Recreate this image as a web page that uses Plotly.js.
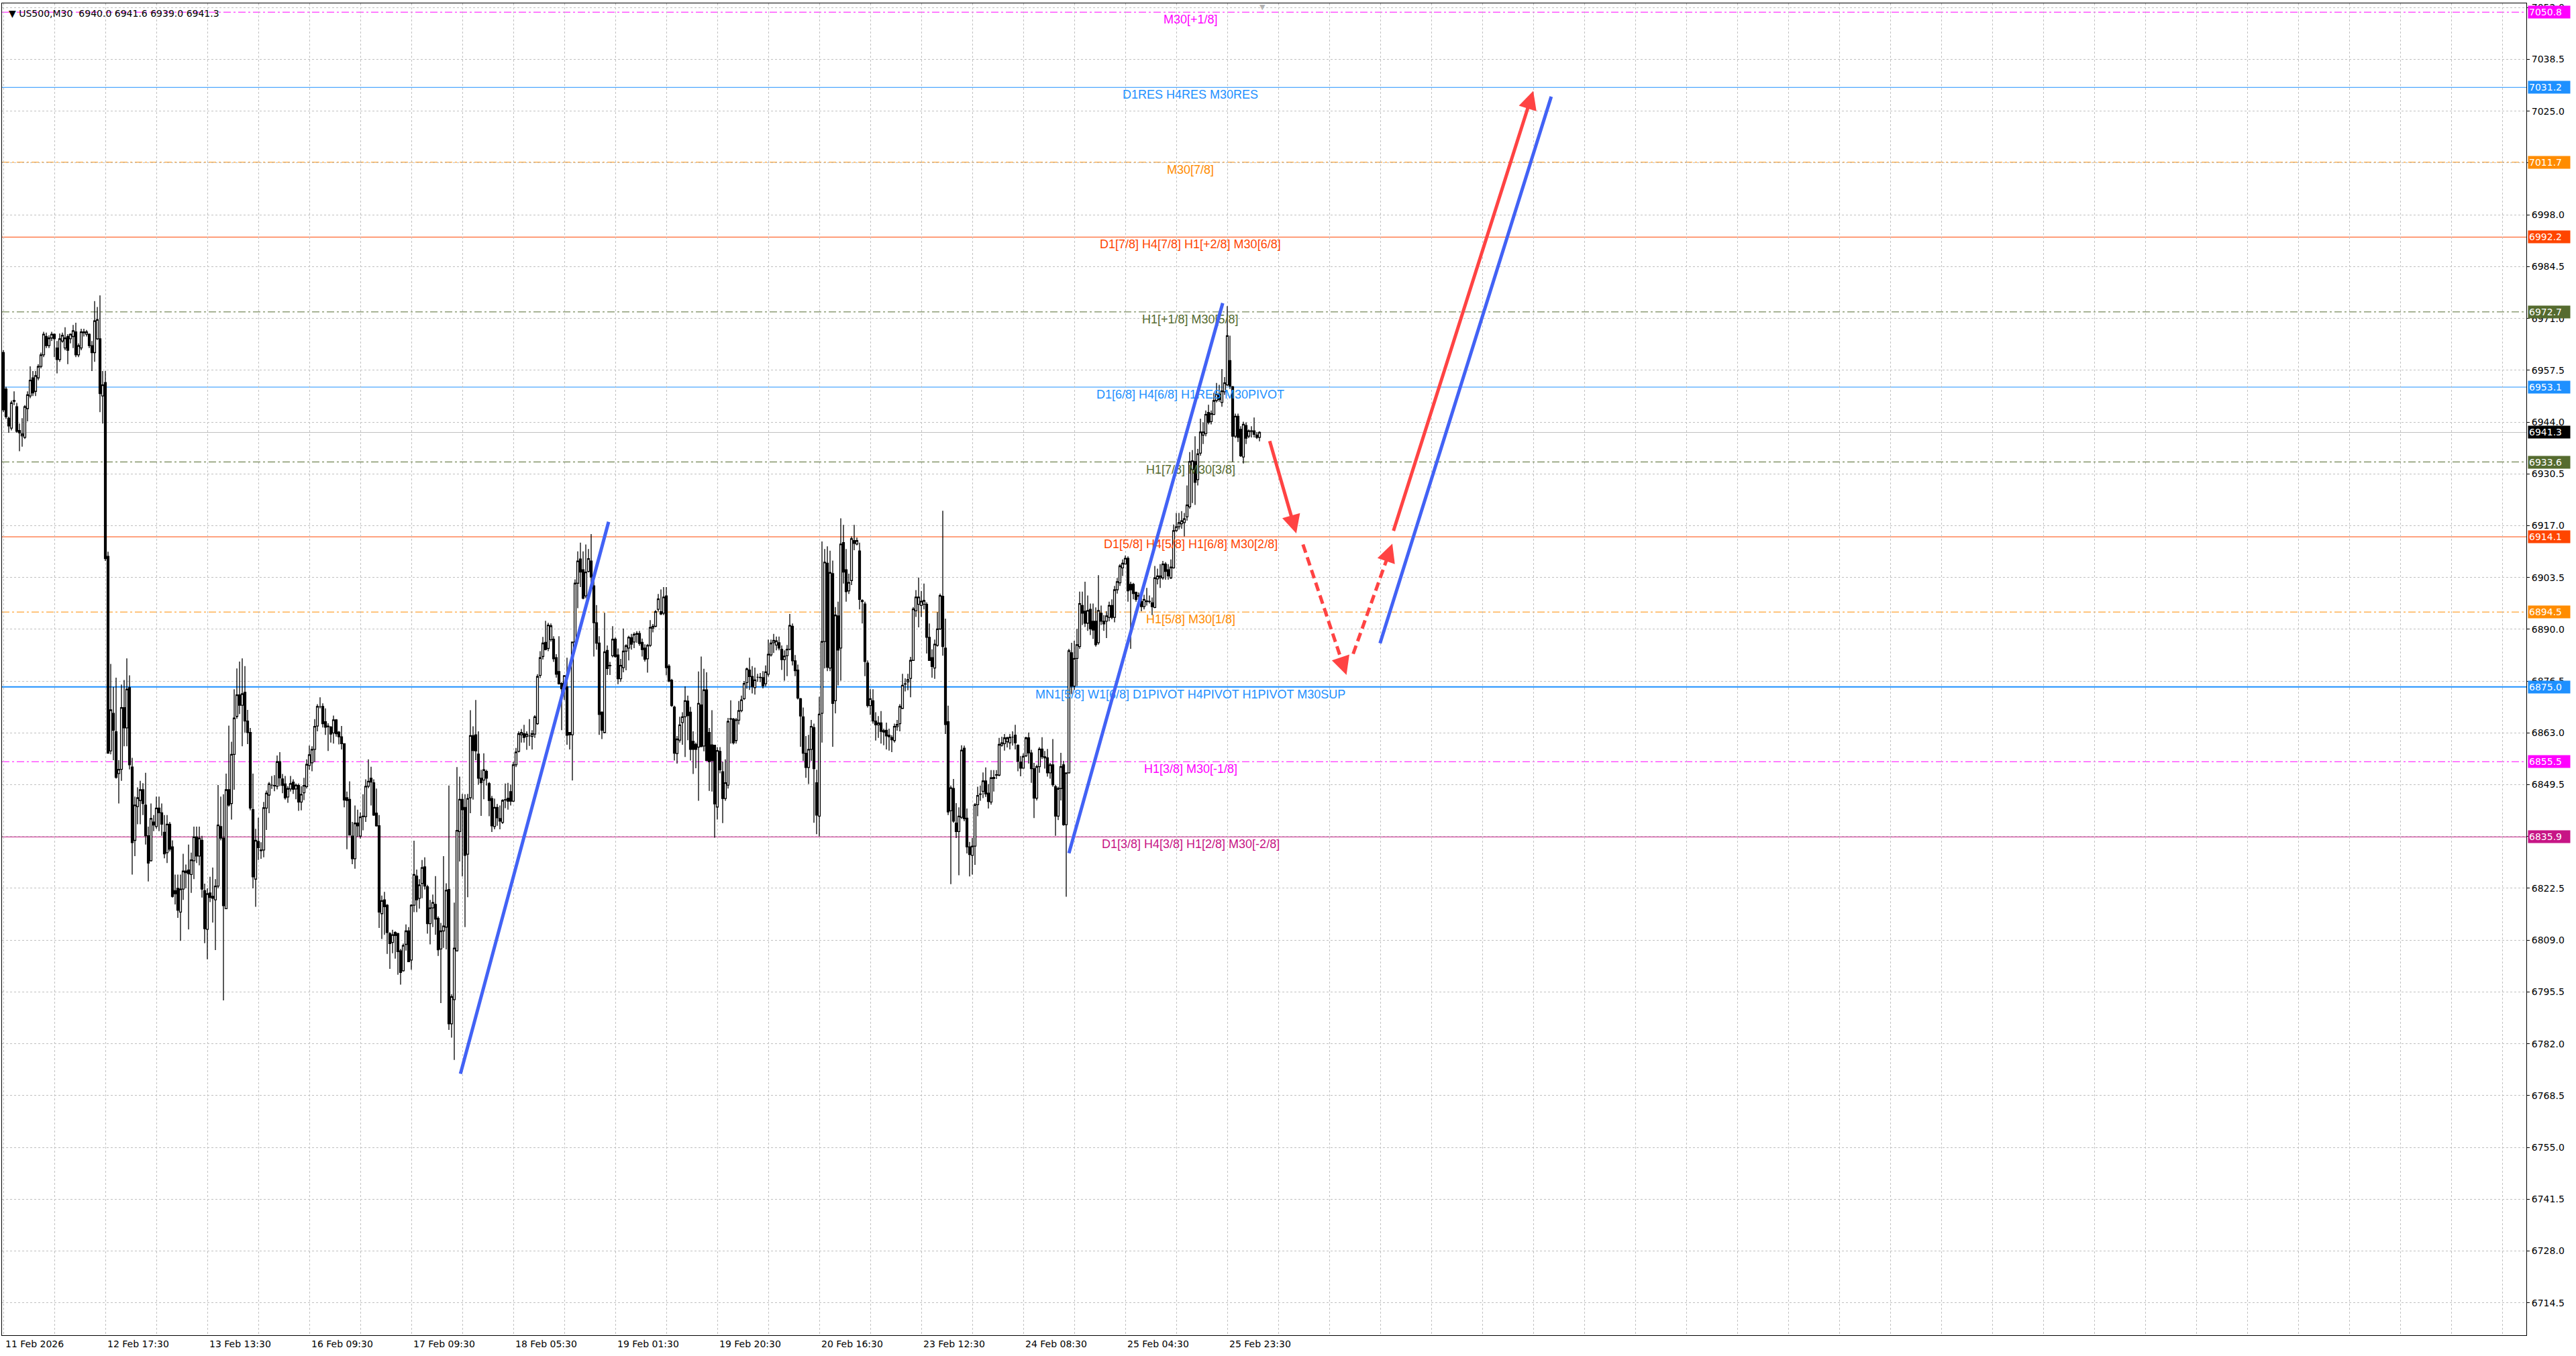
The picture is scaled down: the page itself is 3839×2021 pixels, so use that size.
<!DOCTYPE html>
<html>
<head>
<meta charset="utf-8">
<script src="https://cdn.plot.ly/plotly-3.0.1.min.js"></script>
<style>
  html, body { margin: 0; padding: 0; background: #fff; }
  #plot { width: 3839px; height: 2021px; }
</style>
</head>
<body>
<div id="plot"></div>
<script>
// US500 M30 bars (one value per bar)
const barOpen = [
  6962.1, 6952.6, 6945.0, 6942.4, 6949.4, 6948.0, 6941.8, 6940.4, 6940.0, 6947.5,
  6950.8, 6955.5, 6952.0, 6955.5, 6958.5, 6961.5, 6966.3, 6963.9, 6965.9, 6966.9,
  6963.3, 6960.3, 6965.1, 6963.3, 6966.3, 6965.7, 6966.3, 6967.5, 6961.5, 6963.3,
  6967.3, 6966.9, 6966.9, 6963.9, 6962.1, 6965.7, 6965.7, 6950.8, 6954.3, 6909.0,
  6858.3, 6868.1, 6863.3, 6852.4, 6853.5, 6869.6, 6864.3, 6874.8, 6854.1, 6835.0,
  6843.8, 6845.4, 6848.2, 6844.2, 6836.2, 6829.7, 6839.8, 6838.6, 6843.4, 6842.2,
  6837.1, 6831.8, 6839.2, 6833.3, 6821.9, 6822.5, 6816.3, 6822.3, 6827.0, 6827.3,
  6826.1, 6829.7, 6835.9, 6830.9, 6835.0, 6821.9, 6811.8, 6821.3, 6820.4, 6819.5,
  6823.1, 6838.6, 6835.6, 6817.2, 6848.2, 6844.6, 6857.4, 6867.3, 6872.9, 6870.2,
  6873.6, 6866.1, 6863.1, 6843.0, 6824.9, 6834.7, 6832.5, 6832.5, 6843.4, 6846.8,
  6849.4, 6849.2, 6849.1, 6855.5, 6851.0, 6849.7, 6846.3, 6848.4, 6850.2, 6848.4,
  6849.3, 6845.0, 6847.4, 6849.0, 6854.5, 6855.2, 6858.7, 6864.8, 6869.8, 6869.9,
  6865.9, 6864.8, 6864.5, 6863.0, 6866.4, 6863.2, 6862.0, 6860.2, 6846.1, 6845.7,
  6836.1, 6830.2, 6839.5, 6836.1, 6841.2, 6841.2, 6849.1, 6851.2, 6850.0, 6842.1,
  6838.8, 6815.9, 6819.5, 6818.1, 6810.7, 6808.4, 6811.0, 6810.7, 6806.2, 6801.0,
  6807.9, 6811.4, 6803.8, 6818.1, 6825.7, 6819.9, 6823.8, 6828.1, 6822.9, 6813.3,
  6817.4, 6818.3, 6814.7, 6806.7, 6811.4, 6812.4, 6822.2, 6787.2, 6793.5, 6806.2,
  6837.3, 6845.7, 6843.6, 6831.4, 6846.1, 6862.3, 6862.5, 6857.5, 6851.2, 6850.7,
  6853.0, 6849.8, 6845.9, 6838.6, 6843.6, 6840.7, 6839.7, 6845.6, 6846.0, 6847.7,
  6845.2, 6854.7, 6858.2, 6862.5, 6862.8, 6862.1, 6862.2, 6862.1, 6862.7, 6865.4,
  6878.0, 6882.9, 6886.6, 6885.0, 6887.3, 6887.4, 6882.6, 6879.0, 6875.9, 6874.5,
  6875.0, 6863.1, 6862.5, 6886.7, 6902.0, 6908.3, 6905.5, 6898.7, 6905.1, 6907.8,
  6901.3, 6891.7, 6886.4, 6868.4, 6863.1, 6884.5, 6880.5, 6883.1, 6887.4, 6883.3,
  6877.1, 6880.0, 6884.3, 6885.1, 6887.8, 6886.7, 6888.7, 6888.9, 6886.6, 6885.1,
  6882.3, 6885.8, 6890.3, 6890.8, 6895.2, 6894.6, 6894.2, 6898.7, 6880.4, 6876.7,
  6869.7, 6857.6, 6861.1, 6865.7, 6867.2, 6871.3, 6868.4, 6860.8, 6860.0, 6859.3,
  6870.3, 6859.6, 6874.2, 6863.1, 6859.9, 6859.8, 6843.7, 6858.2, 6852.9, 6845.9,
  6849.4, 6866.7, 6866.6, 6861.0, 6866.3, 6868.8, 6871.9, 6876.1, 6879.4, 6877.7,
  6874.8, 6877.5, 6877.5, 6877.4, 6875.8, 6878.3, 6883.3, 6886.5, 6885.9, 6886.5,
  6884.8, 6882.1, 6883.1, 6884.8, 6890.8, 6881.8, 6879.4, 6871.9, 6867.2, 6857.7,
  6854.0, 6858.7, 6864.4, 6850.0, 6841.3, 6868.1, 6886.8, 6907.2, 6879.9, 6904.5,
  6871.4, 6893.5, 6885.1, 6912.6, 6905.5, 6900.0, 6902.7, 6913.1, 6912.2, 6910.4,
  6897.5, 6896.6, 6881.2, 6870.1, 6871.4, 6866.1, 6865.1, 6865.6, 6863.6, 6863.7,
  6862.4, 6861.8, 6861.0, 6864.6, 6865.4, 6869.4, 6875.7, 6876.3, 6877.2, 6881.9,
  6894.8, 6896.5, 6896.2, 6896.5, 6896.5, 6887.9, 6882.6, 6879.9, 6885.8, 6890.1,
  6898.6, 6885.1, 6865.9, 6842.7, 6848.5, 6839.5, 6837.3, 6841.0, 6859.0, 6840.8,
  6833.3, 6831.1, 6833.5, 6844.3, 6847.0, 6847.8, 6850.5, 6847.3, 6845.0, 6851.1,
  6852.0, 6852.0, 6859.8, 6860.2, 6860.7, 6860.4, 6861.9, 6862.4, 6859.8, 6855.4,
  6853.8, 6857.0, 6861.7, 6857.8, 6853.7, 6846.0, 6854.2, 6858.8, 6856.8, 6856.5,
  6852.6, 6854.7, 6849.0, 6841.3, 6848.5, 6854.7, 6839.1, 6852.6, 6883.9, 6875.2,
  6882.4, 6885.5, 6896.2, 6894.7, 6891.6, 6895.2, 6892.1, 6892.1, 6886.5, 6894.2,
  6892.1, 6892.1, 6893.1, 6896.2, 6893.1, 6900.3, 6902.1, 6906.0, 6907.0, 6908.5,
  6901.7, 6901.7, 6899.6, 6898.8, 6897.2, 6895.9, 6897.2, 6897.2, 6896.9, 6895.7,
  6903.1, 6903.4, 6903.4, 6907.0, 6905.5, 6903.4, 6906.0, 6915.7, 6916.7, 6917.5,
  6917.8, 6919.3, 6921.9, 6931.6, 6933.7, 6929.0, 6935.9, 6940.6, 6941.0, 6946.5,
  6944.1, 6946.0, 6949.6, 6951.3, 6949.1, 6951.9, 6953.7, 6960.0, 6953.2, 6940.3,
  6945.5, 6942.1, 6934.9, 6943.1, 6940.3, 6941.7, 6941.7, 6940.6, 6940.0
];
const barHigh = [
  6962.7, 6953.2, 6945.4, 6949.6, 6952.0, 6949.0, 6943.6, 6945.0, 6948.4, 6952.0,
  6958.5, 6957.3, 6957.3, 6959.1, 6962.1, 6967.5, 6967.3, 6966.6, 6967.5, 6967.1,
  6965.1, 6967.1, 6967.3, 6968.7, 6966.9, 6967.1, 6969.3, 6969.9, 6964.5, 6968.3,
  6968.3, 6968.0, 6967.1, 6965.1, 6975.5, 6974.0, 6977.0, 6957.3, 6957.3, 6910.2,
  6881.0, 6875.0, 6877.4, 6855.9, 6875.6, 6876.8, 6882.4, 6878.0, 6856.5, 6846.4,
  6848.8, 6850.5, 6849.9, 6852.6, 6838.6, 6844.6, 6841.6, 6846.4, 6846.4, 6844.6,
  6841.6, 6841.6, 6839.8, 6835.0, 6826.1, 6826.1, 6826.1, 6831.5, 6828.7, 6833.9,
  6831.8, 6838.6, 6838.6, 6838.6, 6836.2, 6823.7, 6822.5, 6825.5, 6827.9, 6824.9,
  6849.4, 6846.4, 6847.0, 6852.4, 6864.9, 6860.7, 6874.4, 6879.8, 6881.6, 6882.4,
  6880.4, 6869.0, 6864.3, 6852.4, 6838.0, 6840.9, 6834.5, 6845.0, 6848.0, 6850.2,
  6851.8, 6852.0, 6857.1, 6858.0, 6852.3, 6851.8, 6849.1, 6851.8, 6850.9, 6849.8,
  6849.8, 6849.1, 6851.3, 6856.1, 6859.7, 6859.5, 6866.6, 6870.5, 6872.3, 6870.7,
  6869.4, 6865.5, 6864.8, 6867.5, 6866.6, 6863.5, 6864.8, 6860.2, 6847.7, 6850.4,
  6839.8, 6844.1, 6843.0, 6842.3, 6847.0, 6850.9, 6856.1, 6854.2, 6850.9, 6848.5,
  6841.6, 6820.6, 6821.6, 6818.4, 6811.1, 6811.7, 6811.3, 6810.9, 6806.7, 6808.1,
  6813.1, 6812.4, 6818.4, 6834.9, 6827.4, 6824.9, 6829.9, 6830.6, 6823.4, 6819.5,
  6820.9, 6825.7, 6815.2, 6813.5, 6830.9, 6823.8, 6849.3, 6794.9, 6818.8, 6854.1,
  6851.6, 6847.1, 6847.0, 6847.1, 6868.9, 6864.7, 6871.6, 6863.4, 6853.4, 6857.7,
  6853.4, 6850.2, 6846.6, 6845.9, 6844.5, 6844.1, 6845.7, 6849.8, 6850.0, 6849.5,
  6855.5, 6859.1, 6863.4, 6864.0, 6865.1, 6863.4, 6866.6, 6863.7, 6867.6, 6878.3,
  6884.3, 6888.0, 6892.2, 6891.7, 6891.5, 6888.2, 6883.5, 6888.2, 6876.2, 6878.1,
  6882.6, 6863.2, 6886.7, 6903.0, 6910.3, 6912.6, 6910.3, 6912.1, 6910.9, 6914.8,
  6903.6, 6896.3, 6888.2, 6868.6, 6894.3, 6885.8, 6881.5, 6890.8, 6887.9, 6885.0,
  6882.3, 6890.2, 6886.1, 6888.3, 6888.8, 6889.2, 6889.5, 6889.6, 6887.6, 6886.1,
  6886.2, 6892.4, 6891.4, 6895.0, 6899.2, 6900.4, 6901.0, 6901.0, 6880.9, 6877.1,
  6870.1, 6862.2, 6867.2, 6868.4, 6875.1, 6872.7, 6869.8, 6863.4, 6860.5, 6879.0,
  6882.9, 6879.7, 6878.8, 6864.3, 6868.9, 6859.9, 6859.3, 6859.3, 6855.5, 6856.1,
  6866.9, 6871.5, 6866.9, 6866.9, 6871.3, 6872.7, 6876.5, 6880.0, 6882.6, 6880.4,
  6880.0, 6878.4, 6878.6, 6879.1, 6880.6, 6887.3, 6887.3, 6888.8, 6888.1, 6888.1,
  6885.8, 6884.5, 6885.9, 6894.0, 6891.5, 6883.3, 6880.8, 6872.1, 6869.6, 6862.2,
  6862.5, 6866.4, 6865.4, 6853.4, 6872.4, 6912.9, 6910.9, 6911.6, 6910.5, 6907.9,
  6895.8, 6897.2, 6918.9, 6917.2, 6910.9, 6904.5, 6914.2, 6917.2, 6913.9, 6912.6,
  6897.8, 6897.2, 6881.9, 6874.4, 6874.4, 6868.4, 6867.4, 6868.7, 6864.1, 6865.7,
  6864.1, 6862.4, 6865.4, 6866.4, 6870.5, 6878.4, 6877.2, 6878.4, 6882.8, 6895.8,
  6900.2, 6903.5, 6900.0, 6901.9, 6897.0, 6891.5, 6884.8, 6887.3, 6894.5, 6899.3,
  6920.9, 6892.8, 6870.1, 6849.3, 6851.0, 6844.7, 6843.6, 6859.8, 6859.7, 6843.3,
  6834.6, 6835.6, 6844.7, 6849.0, 6849.3, 6852.7, 6854.0, 6849.7, 6853.3, 6853.3,
  6853.3, 6861.7, 6862.0, 6862.7, 6862.0, 6862.7, 6863.4, 6865.1, 6860.0, 6857.0,
  6857.7, 6862.0, 6863.1, 6858.6, 6855.2, 6854.7, 6859.3, 6861.9, 6858.3, 6858.8,
  6855.2, 6861.4, 6849.5, 6849.0, 6857.8, 6855.7, 6852.6, 6884.9, 6886.5, 6887.0,
  6890.1, 6899.8, 6899.8, 6902.4, 6898.8, 6896.7, 6896.7, 6895.7, 6904.1, 6896.2,
  6893.7, 6894.7, 6897.2, 6897.8, 6901.3, 6903.4, 6907.0, 6908.2, 6909.2, 6909.0,
  6902.4, 6902.1, 6899.8, 6899.6, 6898.8, 6899.0, 6900.8, 6898.8, 6898.3, 6906.5,
  6905.8, 6907.0, 6907.8, 6907.5, 6907.0, 6908.2, 6917.3, 6920.3, 6920.3, 6920.8,
  6920.3, 6927.5, 6936.2, 6936.7, 6940.3, 6937.0, 6944.9, 6943.9, 6947.0, 6948.5,
  6947.0, 6951.6, 6954.2, 6953.7, 6957.8, 6955.7, 6974.2, 6966.5, 6953.4, 6946.2,
  6946.2, 6942.9, 6944.1, 6943.9, 6942.1, 6942.9, 6945.2, 6941.4, 6941.6
];
const barLow = [
  6946.6, 6944.8, 6941.2, 6941.8, 6948.4, 6941.2, 6936.4, 6937.6, 6939.6, 6944.2,
  6950.2, 6950.8, 6950.8, 6954.9, 6958.0, 6960.9, 6963.3, 6963.3, 6965.1, 6960.9,
  6956.7, 6959.7, 6964.7, 6962.7, 6959.1, 6964.5, 6963.3, 6960.9, 6960.9, 6962.7,
  6966.3, 6966.3, 6963.3, 6957.3, 6959.7, 6965.4, 6946.6, 6943.6, 6907.8, 6857.7,
  6857.4, 6855.9, 6851.1, 6844.6, 6850.5, 6859.5, 6859.5, 6853.5, 6826.1, 6830.9,
  6839.2, 6839.2, 6841.6, 6833.9, 6824.3, 6829.5, 6837.4, 6838.0, 6837.4, 6836.2,
  6830.3, 6829.1, 6832.1, 6820.1, 6818.3, 6814.8, 6808.8, 6819.5, 6822.5, 6811.8,
  6821.3, 6824.9, 6829.1, 6828.5, 6820.1, 6808.2, 6804.0, 6818.9, 6813.6, 6806.4,
  6822.5, 6835.0, 6793.3, 6817.2, 6843.8, 6840.4, 6848.2, 6866.7, 6867.9, 6859.5,
  6863.1, 6860.1, 6842.8, 6822.5, 6817.7, 6829.9, 6830.2, 6830.6, 6837.7, 6842.1,
  6848.4, 6847.8, 6848.3, 6849.1, 6847.3, 6845.6, 6844.8, 6847.7, 6847.1, 6845.7,
  6842.7, 6842.8, 6845.5, 6848.5, 6853.4, 6853.0, 6855.4, 6863.4, 6869.4, 6864.4,
  6862.5, 6858.3, 6860.5, 6860.2, 6862.0, 6860.0, 6858.7, 6843.6, 6832.7, 6836.3,
  6828.8, 6827.6, 6835.9, 6835.5, 6837.6, 6839.8, 6848.6, 6844.1, 6841.4, 6838.6,
  6812.2, 6809.3, 6810.4, 6805.4, 6801.5, 6805.6, 6804.2, 6800.0, 6797.4, 6800.8,
  6806.3, 6803.3, 6801.3, 6816.3, 6816.3, 6817.2, 6819.9, 6822.2, 6810.7, 6807.9,
  6812.4, 6810.4, 6804.9, 6792.6, 6807.0, 6806.6, 6785.6, 6783.6, 6777.8, 6806.0,
  6829.5, 6825.6, 6812.4, 6820.2, 6842.1, 6845.6, 6855.9, 6849.5, 6841.4, 6845.7,
  6849.3, 6841.3, 6837.2, 6837.9, 6838.8, 6837.9, 6839.3, 6843.4, 6843.0, 6844.1,
  6845.0, 6854.1, 6857.9, 6860.5, 6860.5, 6858.6, 6859.6, 6858.7, 6861.7, 6865.1,
  6877.3, 6882.1, 6884.5, 6884.3, 6886.8, 6881.5, 6877.4, 6875.6, 6863.7, 6871.6,
  6859.9, 6858.7, 6850.6, 6886.4, 6895.5, 6901.0, 6897.8, 6898.1, 6904.8, 6901.9,
  6882.9, 6884.7, 6862.5, 6861.4, 6862.9, 6878.1, 6878.1, 6882.7, 6882.6, 6875.7,
  6876.3, 6878.8, 6879.3, 6881.9, 6884.7, 6885.1, 6886.5, 6885.7, 6882.9, 6881.6,
  6878.7, 6885.4, 6889.2, 6890.5, 6894.6, 6893.7, 6893.7, 6878.0, 6876.2, 6869.8,
  6855.8, 6855.0, 6860.5, 6859.9, 6856.7, 6861.1, 6855.8, 6852.3, 6853.8, 6845.3,
  6859.4, 6858.2, 6855.8, 6847.9, 6847.7, 6835.7, 6840.4, 6852.5, 6839.5, 6845.3,
  6848.5, 6860.2, 6860.0, 6860.2, 6865.2, 6868.4, 6871.6, 6874.5, 6874.2, 6873.3,
  6873.0, 6876.3, 6876.2, 6874.6, 6875.1, 6877.7, 6882.9, 6883.8, 6884.5, 6884.5,
  6879.4, 6876.6, 6877.8, 6884.5, 6880.6, 6877.8, 6871.7, 6859.4, 6855.7, 6851.3,
  6849.7, 6855.7, 6839.6, 6836.6, 6836.0, 6860.5, 6879.8, 6879.1, 6879.1, 6859.4,
  6868.1, 6875.4, 6876.6, 6901.9, 6897.2, 6899.2, 6901.5, 6910.6, 6911.9, 6895.2,
  6891.5, 6877.8, 6869.6, 6867.7, 6865.4, 6861.0, 6861.7, 6860.2, 6859.8, 6858.7,
  6858.4, 6858.0, 6860.5, 6863.6, 6863.4, 6869.2, 6873.8, 6874.1, 6872.3, 6881.8,
  6893.2, 6890.5, 6893.2, 6895.2, 6883.7, 6881.9, 6877.4, 6877.1, 6885.5, 6889.8,
  6883.1, 6862.7, 6841.6, 6823.6, 6839.6, 6835.6, 6825.9, 6840.6, 6840.0, 6831.6,
  6825.6, 6826.1, 6828.6, 6841.3, 6845.3, 6846.0, 6846.3, 6843.3, 6844.3, 6847.7,
  6851.0, 6851.7, 6859.4, 6858.4, 6859.2, 6858.7, 6859.7, 6858.7, 6853.0, 6851.7,
  6853.7, 6856.7, 6855.0, 6850.0, 6840.8, 6845.4, 6852.6, 6856.2, 6853.7, 6851.6,
  6851.1, 6849.0, 6836.2, 6840.3, 6845.4, 6838.8, 6820.3, 6852.4, 6873.1, 6874.2,
  6875.2, 6884.9, 6891.1, 6890.6, 6889.6, 6888.5, 6887.5, 6885.5, 6886.0, 6891.1,
  6889.6, 6887.7, 6892.1, 6892.6, 6891.8, 6899.3, 6901.3, 6903.9, 6907.0, 6897.2,
  6884.9, 6897.8, 6897.2, 6896.7, 6894.7, 6895.2, 6896.2, 6896.7, 6893.7, 6895.5,
  6901.7, 6900.8, 6902.9, 6902.9, 6902.9, 6903.1, 6905.8, 6915.4, 6916.0, 6916.2,
  6914.2, 6918.3, 6921.4, 6922.9, 6922.4, 6927.5, 6935.2, 6938.3, 6940.3, 6943.4,
  6943.4, 6945.8, 6949.1, 6949.3, 6948.0, 6951.1, 6953.4, 6952.6, 6933.7, 6939.8,
  6938.8, 6934.9, 6933.2, 6938.3, 6939.8, 6940.0, 6940.0, 6939.6, 6939.0
];
const barClose = [
  6947.2, 6945.4, 6943.0, 6949.0, 6949.6, 6941.6, 6941.2, 6940.9, 6948.0, 6951.1,
  6954.9, 6951.6, 6956.1, 6958.5, 6961.5, 6966.9, 6963.9, 6965.9, 6966.9, 6965.7,
  6960.3, 6965.7, 6966.6, 6965.9, 6962.7, 6966.9, 6967.8, 6961.5, 6963.9, 6967.5,
  6967.5, 6967.5, 6963.9, 6962.1, 6970.4, 6970.7, 6951.4, 6953.7, 6908.4, 6857.7,
  6869.0, 6863.7, 6851.4, 6853.5, 6869.6, 6864.3, 6874.4, 6854.7, 6834.4, 6844.2,
  6846.1, 6848.2, 6844.6, 6836.2, 6829.1, 6840.7, 6839.0, 6843.4, 6842.2, 6839.2,
  6831.5, 6839.2, 6832.7, 6820.4, 6821.1, 6816.8, 6822.3, 6827.0, 6826.6, 6826.3,
  6829.9, 6835.9, 6830.9, 6835.6, 6822.3, 6812.0, 6821.1, 6820.1, 6819.9, 6823.1,
  6839.0, 6835.6, 6818.0, 6848.2, 6844.2, 6857.4, 6866.9, 6872.9, 6870.2, 6873.2,
  6866.1, 6863.1, 6843.4, 6825.5, 6835.0, 6833.1, 6832.3, 6843.5, 6847.3, 6849.7,
  6849.4, 6849.3, 6855.5, 6851.3, 6849.3, 6846.1, 6848.5, 6849.8, 6848.3, 6849.4,
  6845.0, 6847.0, 6849.3, 6854.8, 6857.3, 6858.7, 6864.7, 6869.9, 6869.8, 6865.4,
  6864.5, 6864.6, 6862.7, 6866.4, 6862.8, 6862.0, 6860.2, 6845.5, 6845.4, 6836.4,
  6830.2, 6839.5, 6838.8, 6841.1, 6841.3, 6849.1, 6850.4, 6850.2, 6841.6, 6838.8,
  6816.3, 6819.3, 6817.7, 6811.0, 6808.1, 6810.4, 6810.2, 6806.0, 6800.6, 6807.6,
  6811.4, 6803.4, 6818.1, 6826.1, 6819.5, 6823.4, 6827.9, 6823.1, 6813.3, 6817.4,
  6818.8, 6814.5, 6806.5, 6811.4, 6812.7, 6822.0, 6787.2, 6794.3, 6806.9, 6837.6,
  6845.7, 6843.0, 6831.1, 6845.9, 6862.3, 6858.4, 6858.3, 6851.2, 6850.0, 6853.4,
  6851.2, 6845.4, 6838.8, 6843.6, 6840.9, 6840.0, 6845.4, 6845.5, 6845.2, 6845.2,
  6854.7, 6858.0, 6862.8, 6863.1, 6861.8, 6862.7, 6862.2, 6862.8, 6867.2, 6877.7,
  6882.6, 6886.4, 6884.7, 6891.1, 6890.9, 6882.3, 6878.3, 6875.8, 6874.5, 6877.9,
  6862.4, 6862.5, 6886.7, 6902.0, 6907.8, 6904.9, 6898.1, 6904.9, 6908.4, 6903.6,
  6891.7, 6886.4, 6867.8, 6863.7, 6884.1, 6879.8, 6880.6, 6887.4, 6882.9, 6877.1,
  6880.6, 6884.3, 6885.7, 6887.9, 6886.1, 6888.7, 6888.9, 6886.3, 6884.7, 6882.2,
  6885.8, 6890.5, 6890.8, 6894.6, 6897.9, 6894.0, 6898.4, 6880.0, 6876.5, 6870.1,
  6857.7, 6861.4, 6865.1, 6867.2, 6871.4, 6867.5, 6858.7, 6858.7, 6858.7, 6870.7,
  6859.4, 6874.2, 6855.8, 6855.5, 6855.8, 6844.5, 6858.4, 6853.4, 6845.9, 6850.0,
  6866.0, 6866.6, 6860.4, 6866.4, 6868.8, 6871.6, 6875.9, 6879.7, 6877.7, 6875.1,
  6876.8, 6877.5, 6877.4, 6875.3, 6878.9, 6883.5, 6886.4, 6887.1, 6887.0, 6885.1,
  6882.1, 6883.0, 6884.8, 6891.0, 6881.8, 6879.2, 6872.1, 6867.4, 6857.7, 6854.0,
  6858.7, 6864.7, 6853.7, 6841.6, 6867.9, 6886.8, 6907.5, 6880.1, 6904.8, 6870.7,
  6893.7, 6884.6, 6912.2, 6904.9, 6899.8, 6902.2, 6913.6, 6912.4, 6913.1, 6897.8,
  6897.2, 6881.6, 6870.1, 6871.9, 6866.1, 6865.1, 6865.6, 6863.4, 6863.2, 6862.2,
  6862.0, 6861.2, 6864.7, 6865.2, 6869.9, 6875.4, 6875.8, 6876.9, 6881.9, 6895.3,
  6898.4, 6898.4, 6897.3, 6897.5, 6887.9, 6881.9, 6880.3, 6886.1, 6890.1, 6898.8,
  6885.5, 6865.2, 6842.4, 6848.7, 6840.0, 6837.3, 6841.3, 6858.5, 6840.6, 6833.3,
  6831.3, 6833.5, 6844.3, 6846.7, 6847.1, 6850.5, 6847.1, 6845.1, 6851.3, 6851.4,
  6852.1, 6860.0, 6860.4, 6861.7, 6861.7, 6861.9, 6861.9, 6860.4, 6855.6, 6853.8,
  6856.9, 6861.7, 6857.8, 6853.7, 6846.0, 6854.2, 6858.8, 6856.8, 6856.5, 6852.6,
  6854.7, 6849.5, 6841.3, 6848.5, 6854.2, 6839.1, 6852.6, 6884.4, 6875.2, 6882.4,
  6886.0, 6896.7, 6894.2, 6891.6, 6894.9, 6890.1, 6889.8, 6886.0, 6894.9, 6892.1,
  6891.4, 6893.5, 6896.2, 6893.1, 6900.3, 6902.4, 6906.5, 6907.2, 6908.5, 6900.0,
  6900.3, 6899.3, 6897.8, 6898.6, 6895.9, 6897.8, 6897.4, 6897.3, 6895.9, 6903.4,
  6903.9, 6903.9, 6907.0, 6905.1, 6903.9, 6906.2, 6915.7, 6916.7, 6917.8, 6918.3,
  6918.8, 6922.4, 6933.7, 6933.9, 6928.3, 6935.7, 6941.4, 6941.4, 6946.0, 6943.9,
  6946.2, 6949.6, 6951.3, 6949.9, 6952.1, 6954.2, 6966.5, 6953.4, 6940.3, 6945.5,
  6940.0, 6935.2, 6943.4, 6939.8, 6941.7, 6941.6, 6940.8, 6940.0, 6941.3
];

// time labels, every 38 bars
const timeLabelBars = [0, 38, 76, 114, 152, 190, 228, 266, 304, 342, 380, 418, 456];
const timeLabels = ['11 Feb 2026', '12 Feb 17:30', '13 Feb 13:30', '16 Feb 09:30', '17 Feb 09:30',
  '18 Feb 05:30', '19 Feb 01:30', '19 Feb 20:30', '20 Feb 16:30', '23 Feb 12:30',
  '24 Feb 08:30', '25 Feb 04:30', '25 Feb 23:30'];

// Murrey math levels
const levelPrices = [7050.8, 7031.2, 7011.7, 6992.2, 6972.7, 6953.1, 6933.6, 6914.1, 6894.5, 6875.0, 6855.5, 6835.9];
const levelNames = ['M30[+1/8]', 'D1RES H4RES M30RES', 'M30[7/8]', 'D1[7/8] H4[7/8] H1[+2/8] M30[6/8]',
  'H1[+1/8] M30[5/8]', 'D1[6/8] H4[6/8] H1RES M30PIVOT', 'H1[7/8] M30[3/8]', 'D1[5/8] H4[5/8] H1[6/8] M30[2/8]',
  'H1[5/8] M30[1/8]', 'MN1[5/8] W1[6/8] D1PIVOT H4PIVOT H1PIVOT M30SUP', 'H1[3/8] M30[-1/8]',
  'D1[3/8] H4[3/8] H1[2/8] M30[-2/8]'];
const levelColors = ['#FF00FF', '#1E90FF', '#FF8C00', '#FF4500', '#556B2F', '#1E90FF',
  '#556B2F', '#FF4500', '#FF8C00', '#1E90FF', '#FF00FF', '#C71585'];
const levelDashed = [true, false, true, false, true, false, true, false, true, false, true, false];
const levelWidths = [1, 1, 1, 1, 1, 1, 1, 1, 1, 2, 1, 1];

// hand drawn trend lines (bar index, price)
const blueX0 = [170.2, 396.9, 512.8];
const blueY0 = [6773.9, 6831.4, 6886.1];
const blueX1 = [225.5, 454.3, 576.7];
const blueY1 = [6918.0, 6975.0, 7028.8];

// projection arrows
const redX0 = [471.7, 484.2, 502.9, 517.8];
const redY0 = [6939.3, 6912.1, 6883.6, 6915.4];
const redX1 = [481.7, 500.4, 517.5, 570.0];
const redY1 = [6915.0, 6878.1, 6912.3, 7030.3];
const redDashed = [false, true, true, false];

const BLUE = '#4262F5';
const RED = '#FF4343';
const axisFont = {family: 'DejaVu Sans, Verdana, sans-serif', size: 14, color: '#000'};
const labelBar = 442.3;

const bars = barOpen.map((_, i) => i);
const last = bars.length - 1;

const candles = {
  type: 'candlestick',
  x: bars,
  open: barOpen,
  high: barHigh,
  low: barLow,
  close: barClose,
  increasing: {line: {color: '#000', width: 1.3}, fillcolor: '#fff'},
  decreasing: {line: {color: '#000', width: 1.3}, fillcolor: '#000'},
  whiskerwidth: 0,
  hoverinfo: 'skip',
  showlegend: false,
};

const shapes = [];
const annotations = [];

function priceBox(price, color) {
  return {
    xref: 'paper', x: 1, xanchor: 'left', xshift: 2,
    yref: 'y', y: price, yanchor: 'middle',
    text: price.toFixed(1), showarrow: false,
    font: {family: axisFont.family, size: 14, color: '#fff'},
    bgcolor: color, borderpad: 1, width: 60, align: 'left',
  };
}

// levels: line + caption
levelPrices.forEach((p, i) => {
  shapes.push({
    type: 'line', layer: 'below',
    xref: 'paper', x0: 0, x1: 1, yref: 'y', y0: p, y1: p,
    line: {color: levelColors[i], width: levelWidths[i], dash: levelDashed[i] ? '11px,4px,3px,4px' : 'solid'},
  });
  annotations.push({
    xref: 'x', x: labelBar, yref: 'y', y: p, xanchor: 'center', yanchor: 'top', yshift: 1,
    text: levelNames[i], showarrow: false,
    font: {family: 'Liberation Sans, Arial, sans-serif', size: 18, color: levelColors[i]},
  });
});

// bid line
const bid = barClose[last];
shapes.push({
  type: 'line', layer: 'below',
  xref: 'paper', x0: 0, x1: 1, yref: 'y', y0: bid, y1: bid,
  line: {color: '#C0C0C0', width: 1},
});

// blue trend lines (annotation lines so they sit above captions)
blueX0.forEach((x0, i) => {
  annotations.push({
    xref: 'x', yref: 'y', axref: 'x', ayref: 'y',
    x: blueX1[i], y: blueY1[i], ax: x0, ay: blueY0[i],
    text: '', showarrow: true, arrowhead: 0, arrowwidth: 5, arrowcolor: BLUE,
    standoff: 0, startstandoff: 0,
  });
});

// red arrows
redX0.forEach((x0, i) => {
  const x1 = redX1[i], y1 = redY1[i], y0 = redY0[i];
  const f = redDashed[i] ? 0.1 : 1;
  const tx = x1 - (x1 - x0) * f;
  const ty = y1 - (y1 - y0) * f;
  if (redDashed[i]) {
    shapes.push({
      type: 'line', xref: 'x', yref: 'y', x0: x0, y0: y0, x1: tx, y1: ty,
      line: {color: RED, width: 5, dash: '13px,7px'},
    });
  }
  annotations.push({
    xref: 'x', yref: 'y', axref: 'x', ayref: 'y',
    x: x1, y: y1, ax: tx, ay: ty,
    text: '', showarrow: true, arrowhead: 2, arrowsize: 1.1, arrowwidth: 5, arrowcolor: RED,
    standoff: 0, startstandoff: 0,
  });
});

// right side price boxes
levelPrices.forEach((p, i) => annotations.push(priceBox(p, levelColors[i])));
annotations.push(priceBox(bid, '#000'));

// time axis labels
timeLabelBars.forEach((b, i) => {
  annotations.push({
    xref: 'x', x: b, yref: 'paper', y: 0, xanchor: 'left', yanchor: 'top',
    xshift: 1, yshift: -3, text: timeLabels[i], showarrow: false, font: axisFont,
  });
});

// header
const f1 = v => v.toFixed(1);
annotations.push({
  xref: 'paper', x: 0, yref: 'paper', y: 1, xanchor: 'left', yanchor: 'top',
  xshift: 8, yshift: -5, showarrow: false, font: axisFont,
  text: '\u25BC US500,M30  ' + [barOpen[last], barHigh[last], barLow[last], barClose[last]].map(f1).join(' '),
});
// chart shift marker
annotations.push({
  xref: 'x', x: bars.length, yref: 'paper', y: 1, xanchor: 'center', yanchor: 'top',
  yshift: 3, text: '\u25BC', showarrow: false,
  font: {family: axisFont.family, size: 11, color: '#B4B4B4'},
});

const layout = {
  width: 3839,
  height: 2021,
  margin: {l: 3, r: 74, t: 5, b: 31},
  paper_bgcolor: '#fff',
  plot_bgcolor: '#fff',
  showlegend: false,
  boxgap: 0.15,
  boxgroupgap: 0.15,
  xaxis: {
    range: [-0.5, 940],
    tickmode: 'linear', tick0: 0, dtick: 19,
    showticklabels: false, ticks: '',
    showgrid: true, gridcolor: '#C0C0C0', griddash: '3px,3px', gridwidth: 1,
    zeroline: false, showline: true, linecolor: '#000', linewidth: 1, mirror: true,
    rangeslider: {visible: false}, fixedrange: true,
  },
  yaxis: {
    side: 'right',
    range: [6706.06, 7053.1],
    tickmode: 'linear', tick0: 6714.5, dtick: 13.5, tickformat: '.1f',
    ticks: 'outside', ticklen: 4, tickcolor: '#000',
    tickfont: axisFont,
    showgrid: true, gridcolor: '#C0C0C0', griddash: '3px,3px', gridwidth: 1,
    zeroline: false, showline: true, linecolor: '#000', linewidth: 1, mirror: true,
    fixedrange: true,
  },
  shapes: shapes,
  annotations: annotations,
};

const config = {
  displayModeBar: false,
  staticPlot: true,
};

Plotly.newPlot('plot', [candles], layout, config);
</script>
</body>
</html>
